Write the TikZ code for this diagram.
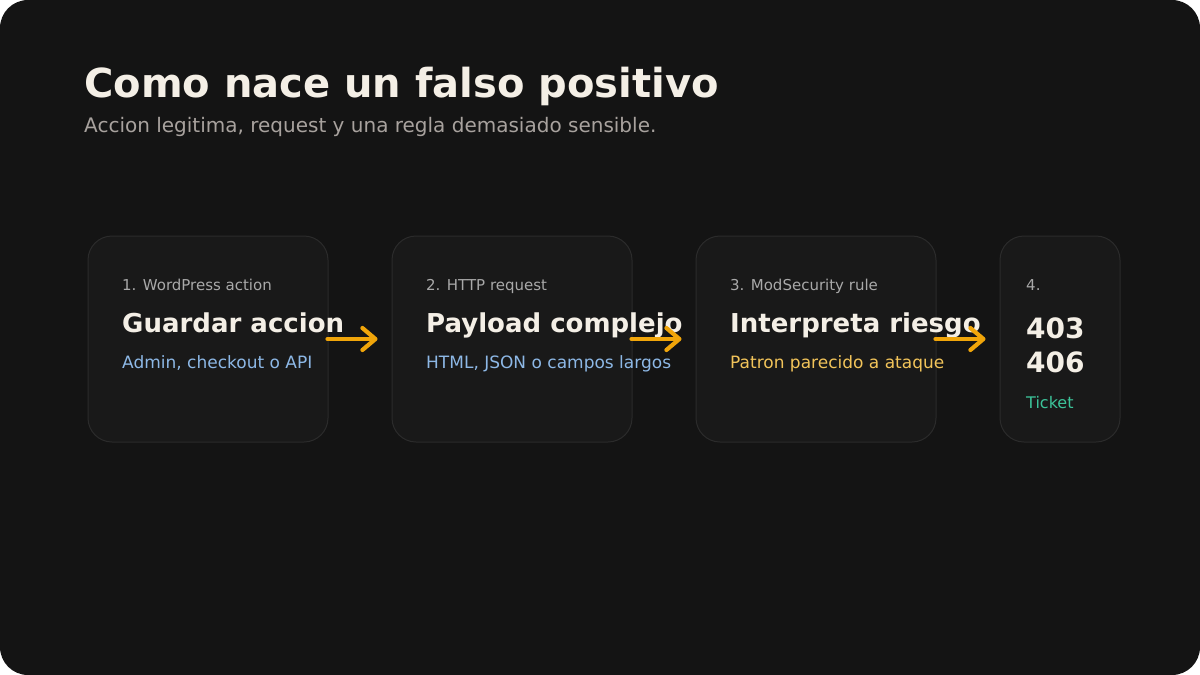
\documentclass[tikz,border=0pt]{standalone}
\usepackage{fontspec}
\setmainfont{DejaVu Sans}
\usetikzlibrary{arrows.meta,calc}
\definecolor{bgc}{HTML}{141414}
\definecolor{cardc}{HTML}{191919}
\definecolor{cardline}{HTML}{2B2B2B}
\definecolor{titlec}{HTML}{F4EFE6}
\definecolor{subc}{HTML}{A8A29E}
\definecolor{labelc}{HTML}{A9A9A9}
\definecolor{bluec}{HTML}{8DB8E6}
\definecolor{yellc}{HTML}{F2C45A}
\definecolor{tealc}{HTML}{3CC49A}
\definecolor{arrowc}{HTML}{F0A50A}
\tikzset{
  card/.style={draw=cardline, fill=cardc, line width=1pt, rounded corners=24pt, minimum height=206pt, inner sep=0pt},
  lbl/.style={anchor=base west, inner sep=0pt, text=labelc, font=\fontsize{15}{18}\selectfont},
  ttl/.style={anchor=base west, inner sep=0pt, text=titlec, font=\bfseries\fontsize{26}{30}\selectfont},
  big/.style={anchor=base west, inner sep=0pt, text=titlec, font=\bfseries\fontsize{28}{32}\selectfont},
  sub/.style={anchor=base west, inner sep=0pt, font=\fontsize{17}{20}\selectfont},
  flow/.style={draw=arrowc, line width=4.2pt, line cap=round, -{Straight Barb[length=13pt,width=22pt,line cap=round,line join=round]}}
}
\begin{document}
\begin{tikzpicture}[x=1pt,y=-1pt]
\useasboundingbox (0,0) rectangle (1200,675);
\fill[bgc, rounded corners=28pt] (0,0) rectangle (1200,675);
\node[anchor=base west, inner sep=0pt, text=titlec, font=\bfseries\fontsize{40}{46}\selectfont] (title) at (84,97) {Como nace un falso positivo};
\node[anchor=base west, inner sep=0pt, text=subc, font=\fontsize{20}{24}\selectfont] (subtitle) at (84,132) {Accion legitima, request y una regla demasiado sensible.};
% cards
\node[card, minimum width=240pt] (c1) at (208,339) {};
\node[card, minimum width=240pt] (c2) at (512,339) {};
\node[card, minimum width=240pt] (c3) at (816,339) {};
\node[card, minimum width=120pt] (c4) at (1060,339) {};
% card 1
\node[lbl] (l1) at (122,290) {1. WordPress action};
\node[ttl] (t1) at (122,332) {Guardar accion};
\node[sub, text=bluec] (s1) at (122,368) {Admin, checkout o API};
% card 2
\node[lbl] (l2) at (426,290) {2. HTTP request};
\node[ttl] (t2) at (426,332) {Payload complejo};
\node[sub, text=bluec] (s2) at (426,368) {HTML, JSON o campos largos};
% card 3
\node[lbl] (l3) at (730,290) {3. ModSecurity rule};
\node[ttl] (t3) at (730,332) {Interpreta riesgo};
\node[sub, text=yellc] (s3) at (730,368) {Patron parecido a ataque};
% card 4
\node[lbl] (l4) at (1026,290) {4.};
\node[big] (t4a) at (1026,338) {403};
\node[big] (t4b) at (1026,372) {406};
\node[sub, text=tealc, font=\fontsize{16}{19}\selectfont] (s4) at (1026,408) {Ticket};
% arrows
\draw[flow] ($(c1.east)+(-1,0)$) -- ($(c2.west)+(-14,0)$);
\draw[flow] ($(c2.east)+(-1,0)$) -- ($(c3.west)+(-14,0)$);
\draw[flow] ($(c3.east)+(-1,0)$) -- ($(c4.west)+(-14,0)$);
\end{tikzpicture}
\end{document}
